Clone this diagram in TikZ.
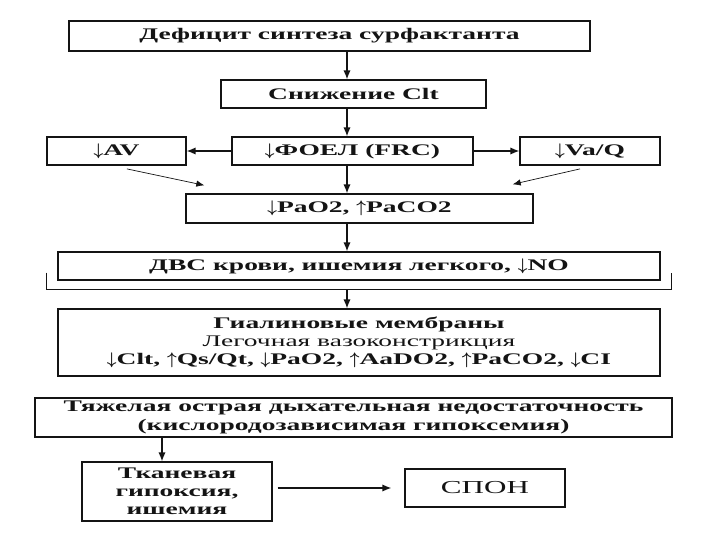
\documentclass[tikz,border=0pt]{standalone}
\usepackage{amsmath}
\usepackage{fontspec}
\usepackage{xcolor}
\usepackage{tikz}
\usetikzlibrary{arrows.meta, positioning, calc}
\newfontfamily\boxfont[FakeStretch=1.7]{Liberation Serif}
\definecolor{mydark}{RGB}{20,20,20}
\newcommand{\arrdown}{$\boldsymbol{\downarrow}$}
\newcommand{\arrup}{$\boldsymbol{\uparrow}$}
\tikzset{
  block/.style={rectangle, draw=mydark, fill=white, text=mydark,
    align=center, inner sep=0pt, line width=1pt,
    font=\boxfont\bfseries\fontsize{11.5pt}{13pt}\selectfont},
  arrow/.style={-{Latex[length=2.2mm, width=1.8mm]}, line width=0.9pt, color=mydark},
  thinarrow/.style={-{Latex[length=2mm, width=1.6mm]}, line width=0.5pt, color=mydark},
  line/.style={line width=0.9pt, color=mydark}
}
\begin{document}
\begin{tikzpicture}
  % Page
  \fill[white] (0,0) rectangle (18,13.5);
  \useasboundingbox (0,0) rectangle (18,13.5);

  % Top chain
  \node[block, minimum width=13.025cm, minimum height=0.75cm] (deficit) at (8.2375,12.6) {Дефицит синтеза сурфактанта};
  \node[block, minimum width=6.625cm, minimum height=0.7cm] (clt) at (8.8375,11.15) {Снижение Clt};
  \node[block, minimum width=6.025cm, minimum height=0.7cm] (frc) at (8.8125,9.725) {\arrdown ФОЕЛ (FRC)};
  \node[block, minimum width=3.475cm, minimum height=0.7cm] (av) at (2.9125,9.725) {\arrdown AV};
  \node[block, minimum width=3.5cm, minimum height=0.7cm] (vaq) at (14.75,9.725) {\arrdown Va/Q};
  \node[block, minimum width=8.675cm, minimum height=0.725cm] (gas) at (8.9875,8.2875) {\arrdown PaO2, \arrup PaCO2};

  % Middle part
  \node[block, minimum width=15.05cm, minimum height=0.7cm] (dic) at (8.975,6.85) {ДВС крови, ишемия легкого, \arrdown NO};
  \node[block, minimum width=15.05cm, minimum height=1.675cm] (hyal) at (8.975,4.9375)
    {Гиалиновые мембраны\\{\mdseries Легочная вазоконстрикция}\\\arrdown Clt, \arrup Qs/Qt, \arrdown PaO2, \arrup AaDO2, \arrup PaCO2, \arrdown CI};

  % Outcome
  \node[block, minimum width=15.925cm, minimum height=0.975cm] (ards) at (8.8375,3.0625)
    {Тяжелая острая дыхательная недостаточность\\(кислородозависимая гипоксемия)};
  \node[block, minimum width=4.75cm, minimum height=1.475cm] (tissue) at (4.425,1.2125) {Тканевая\\гипоксия,\\ишемия};
  \node[block, minimum width=4cm, minimum height=0.95cm,
    font=\boxfont\mdseries\fontsize{13pt}{15pt}\selectfont] (mods) at (12.125,1.3) {СПОН};

  % Arrows down the spine
  \coordinate (spine) at (8.675,0);
  \draw[arrow] (deficit.south -| spine) -- (clt.north -| spine);
  \draw[arrow] (clt.south -| spine) -- (frc.north -| spine);
  \draw[arrow] (frc.south -| spine) -- (gas.north -| spine);
  \draw[arrow] (gas.south -| spine) -- (dic.north -| spine);

  % Side arrows
  \draw[arrow] (frc.west) -- (av.east);
  \draw[arrow] (frc.east) -- (vaq.west);
  \draw[thinarrow] ([xshift=0.26cm, yshift=-0.08cm]av.south) -- ([xshift=0.475cm, yshift=0.2cm]gas.north west);
  \draw[thinarrow] ([xshift=-0.25cm, yshift=-0.08cm]vaq.south) -- ([xshift=-0.525cm, yshift=0.225cm]gas.north east);

  % Bracket under DIC
  \draw[line] ([xshift=-0.275cm, yshift=0.2cm]dic.south west) |- ([xshift=0.275cm, yshift=-0.225cm]dic.south east) -- ++(0,0.425);
  \coordinate (brk) at ([yshift=-0.225cm]dic.south -| spine);
  \draw[arrow] (brk) -- (hyal.north -| brk);

  % Bottom arrows
  \coordinate (drop) at (4.05,0);
  \draw[arrow] (ards.south -| drop) -- (tissue.north -| drop);
  \draw[arrow, shorten <=0.125cm, shorten >=0.325cm] (tissue.east |- mods.west) -- (mods.west);
\end{tikzpicture}
\end{document}
